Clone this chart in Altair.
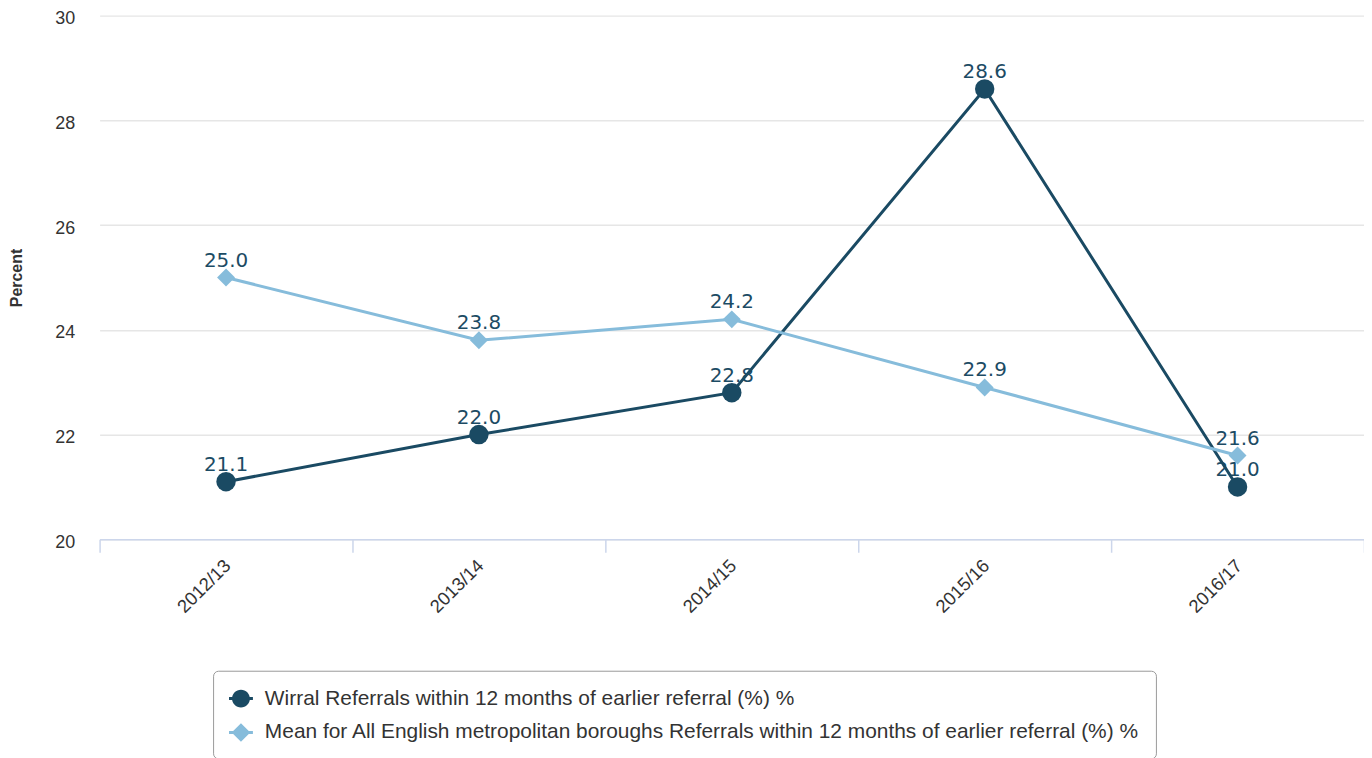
import altair as alt
import pandas as pd

years = ["2012/13", "2013/14", "2014/15", "2015/16", "2016/17"]
wirral = [21.1, 22.0, 22.8, 28.6, 21.0]
mean_mb = [25.0, 23.8, 24.2, 22.9, 21.6]
series_names = [
    "Wirral Referrals within 12 months of earlier referral (%) %",
    "Mean for All English metropolitan boroughs Referrals within 12 months of earlier referral (%) %",
]
colors = ["#1a4a63", "#86bcdb"]
y_ticks = [20, 22, 24, 26, 28, 30]

rows = []
for s, vals in zip(series_names, [wirral, mean_mb]):
    for yr, v in zip(years, vals):
        rows.append({"year": yr, "value": v, "series": s})
df = pd.DataFrame(rows)

# legend symbols: marker with a short line through it (unit square coords)
circle_line = ("M-1,-0.125 L-0.6,-0.125 L-0.6,0.125 L-1,0.125 Z "
               "M0.6,-0.125 L1,-0.125 L1,0.125 L0.6,0.125 Z "
               "M-0.75,0 A0.75,0.75 0 1,1 0.75,0 A0.75,0.75 0 1,1 -0.75,0 Z")
diamond_line = ("M-1,-0.125 L-0.6,-0.125 L-0.6,0.125 L-1,0.125 Z "
                "M0.6,-0.125 L1,-0.125 L1,0.125 L0.6,0.125 Z "
                "M-0.78,0 L0,-0.78 L0.78,0 L0,0.78 Z")

x_enc = alt.X(
    "year:N", sort=years,
    scale=alt.Scale(type="band", paddingInner=0, paddingOuter=0),
    axis=alt.Axis(
        title=None, labelAngle=315, labelAlign="right", labelBaseline="middle",
        tickBand="extent", ticks=True, tickSize=13, tickColor="#ccd6eb",
        domainColor="#ccd6eb", domainWidth=1.5, tickWidth=1.5,
        labelFont="Liberation Sans", labelFontSize=18.5, labelColor="#333333",
        labelPadding=10, labelOffset=1, grid=False,
    ),
)
y_enc = alt.Y(
    "value:Q",
    scale=alt.Scale(domain=[20, 30], nice=False, zero=False),
    axis=alt.Axis(
        values=y_ticks, title="Percent", titleFont="Liberation Sans",
        titleFontSize=16, titleFontWeight="bold", titleColor="#333333",
        titleX=-83, titleY=263, titleAlign="center", titleBaseline="middle",
        labelFont="Liberation Sans", labelFontSize=18, labelColor="#333333",
        labelPadding=25, labelOffset=3, ticks=False, domain=False,
        gridColor="#e6e6e6", gridWidth=1.5,
    ),
)

base = alt.Chart(df)

labels = base.mark_text(
    font="DejaVu Sans", fontSize=20, color="#1c4b64",
    baseline="alphabetic", dy=-11,
).encode(x=x_enc, y=y_enc, text=alt.Text("value:Q", format=".1f"))

layers = [labels]
shapes = ["circle", "diamond"]
sizes = [380, 324]
for name, col in zip(series_names, colors):
    layers.append(
        base.transform_filter(alt.datum.series == name)
        .mark_line(strokeWidth=3, color=col)
        .encode(x=x_enc, y=y_enc)
    )
for name, col, shp, sz in zip(series_names, colors, shapes, sizes):
    layers.append(
        base.transform_filter(alt.datum.series == name)
        .mark_point(shape=shp, filled=True, size=sz, opacity=1, color=col)
        .encode(x=x_enc, y=y_enc)
    )

legend_def = alt.Legend(
    title=None, orient="none", legendX=114, legendY=658, direction="vertical",
    padding=16, strokeColor="#999999", cornerRadius=5, fillColor="#ffffff",
    symbolSize=576, symbolStrokeWidth=0, symbolOpacity=1,
    labelFont="Liberation Sans", labelFontSize=21, labelColor="#333333",
    labelLimit=3000, labelOffset=12, rowPadding=12,
)

# legend-only layer: draws nothing itself (filtered empty), its scales carry the legend
legend_layer = base.transform_filter("false").mark_point(filled=True).encode(
    x=x_enc, y=y_enc,
    fill=alt.Fill("series:N", scale=alt.Scale(domain=series_names, range=colors),
                  legend=legend_def),
    shape=alt.Shape("series:N",
                    scale=alt.Scale(domain=series_names, range=[circle_line, diamond_line]),
                    legend=legend_def),
)
layers.append(legend_layer)

chart = alt.layer(*layers).properties(
    width=1270, height=526,
    autosize=alt.AutoSizeParams(type="none"),
    padding={"left": 92, "top": 6, "right": 0, "bottom": 218},
    background="#ffffff",
).configure_view(stroke=None)

chart.save("out.html", embed_options={"renderer": "svg", "actions": False})
